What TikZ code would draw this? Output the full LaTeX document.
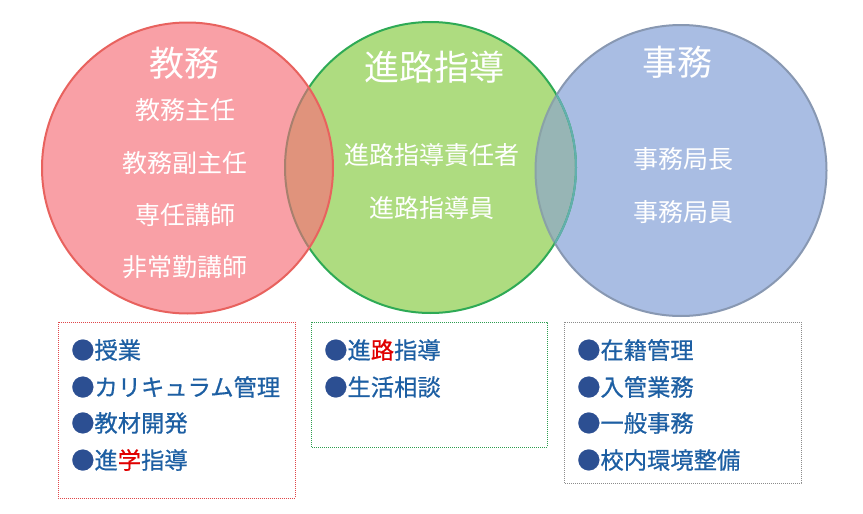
\documentclass[tikz,border=0pt]{standalone}
\usepackage{fontspec}
\newfontfamily\jp{Noto Sans CJK JP}
\newfontfamily\jpb{Noto Sans CJK JP}[FakeBold=0.6]
\definecolor{redfill}{HTML}{F9A0A6}
\definecolor{redline}{HTML}{E8625E}
\definecolor{greenfill}{HTML}{AEDC80}
\definecolor{greenline}{HTML}{2EAA55}
\definecolor{bluefill}{HTML}{A9BDE3}
\definecolor{blueline}{HTML}{8898B2}
\definecolor{rgover}{HTML}{E0937C}
\definecolor{gbover}{HTML}{97B5B5}
\definecolor{rgedge}{HTML}{A8806E}
\definecolor{gbedgeA}{HTML}{8AA2A6}
\definecolor{gbedgeB}{HTML}{62AFAE}
\definecolor{itemblue}{HTML}{1D5FA3}
\definecolor{bulletblue}{HTML}{2C4F92}
\definecolor{hilite}{HTML}{E00000}
\definecolor{boxred}{HTML}{E0474A}
\definecolor{boxgreen}{HTML}{2E9E50}
\definecolor{boxgray}{HTML}{8C8C8C}
\begin{document}
\begin{tikzpicture}[x=1pt,y=-1pt,
  title/.style={text=white,font=\jp\fontsize{35}{40}\selectfont,inner sep=0pt},
  role/.style={text=white,font=\jp\fontsize{25}{30}\selectfont,inner sep=0pt},
  item/.style={text=itemblue,font=\jpb\fontsize{23.3}{27}\selectfont,inner sep=0pt,anchor=west},
  dotbox/.style={line width=0.9pt,dash pattern=on 0.9pt off 1.1pt}
]
\newcommand\bul{\textcolor{bulletblue}{●}}
\useasboundingbox[fill=white] (0,0) rectangle (863,514);
% circle centres
\coordinate (cr) at (187.5,168);
\coordinate (cg) at (430.5,167.5);
\coordinate (cb) at (681,170.5);
% fills
\fill[redfill] (cr) circle (145.5);
\fill[greenfill] (cg) circle (145.5);
\fill[bluefill] (cb) circle (145.5);
\begin{scope}
  \clip (cr) circle (145.5);
  \fill[rgover] (cg) circle (145.5);
  \draw[rgedge,line width=2pt] (cg) circle (145.5);
\end{scope}
\begin{scope}
  \clip (cg) circle (145.5);
  \fill[gbover] (cb) circle (145.5);
  \draw[gbedgeA,line width=2pt] (cb) circle (145.5);
\end{scope}
% borders
\begin{scope}[even odd rule]
  \clip (0,0) rectangle (863,514) (cr) circle (145.5);
  \draw[greenline,line width=2pt] (cg) circle (145.5);
\end{scope}
\draw[redline,line width=2pt] (cr) circle (145.5);
\begin{scope}[even odd rule]
  \clip (0,0) rectangle (863,514) (cg) circle (145.5);
  \draw[blueline,line width=2pt] (cb) circle (145.5);
\end{scope}
\begin{scope}
  \clip (cb) circle (145.5);
  \draw[gbedgeB,line width=2pt] (cg) circle (145.5);
\end{scope}
% circle texts
\node[title] (t1) at (184,63) {教務};
\node[role] (r11) at (185,110) {教務主任};
\node[role] (r12) at (185,163) {教務副主任};
\node[role] (r13) at (185,215) {専任講師};
\node[role] (r14) at (185,267) {非常勤講師};
\node[title] (t2) at (434,67) {進路指導};
\node[role] (r21) at (432,155) {進路指導責任者};
\node[role] (r22) at (432,208) {進路指導員};
\node[title] (t3) at (677,62) {事務};
\node[role] (r31) at (683,159) {事務局長};
\node[role] (r32) at (683,212) {事務局員};
% boxes
\draw[dotbox,boxred] (58,322) rectangle (295,498);
\draw[dotbox,boxgreen] (311,322) rectangle (547,447);
\draw[dotbox,boxgray] (564,322) rectangle (801,483);
\node[item] (a1) at (71,350) {\bul 授業};
\node[item] (a2) at (71,387) {\bul カリキュラム管理};
\node[item] (a3) at (71,423) {\bul 教材開発};
\node[item] (a4) at (71,460) {\bul 進\textcolor{hilite}{学}指導};
\node[item] (b1) at (324,350) {\bul 進\textcolor{hilite}{路}指導};
\node[item] (b2) at (324,387) {\bul 生活相談};
\node[item] (c1) at (577,350) {\bul 在籍管理};
\node[item] (c2) at (577,387) {\bul 入管業務};
\node[item] (c3) at (577,423) {\bul 一般事務};
\node[item] (c4) at (577,460) {\bul 校内環境整備};
\end{tikzpicture}
\end{document}
